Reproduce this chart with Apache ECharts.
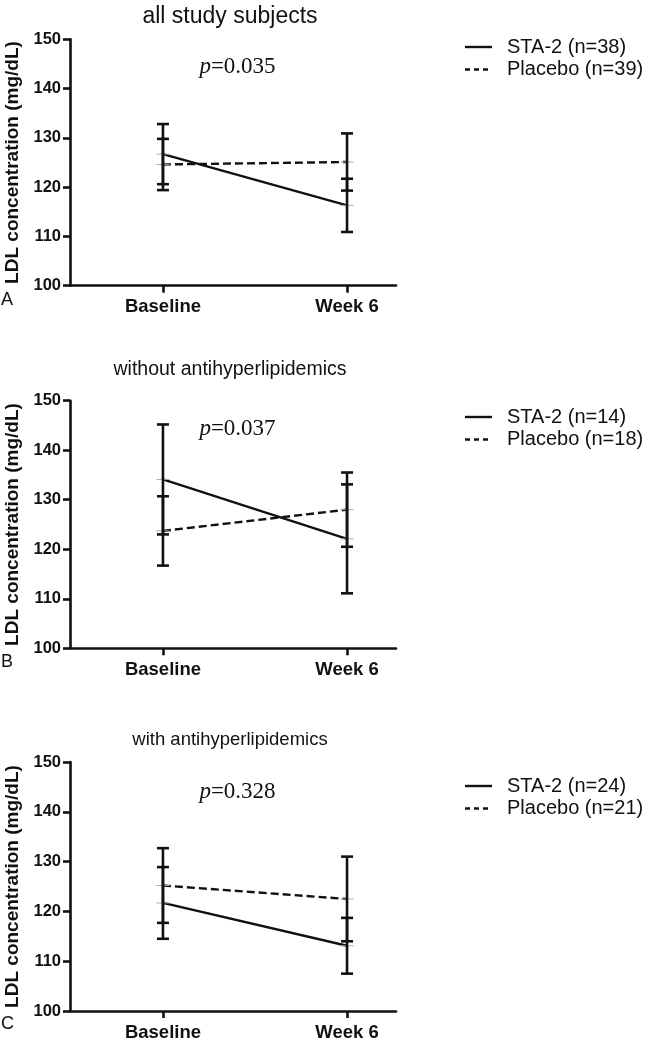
<!DOCTYPE html>
<html>
<head>
<meta charset="utf-8">
<script src="https://cdn.jsdelivr.net/npm/echarts@6/dist/echarts.min.js"></script>
<style>html,body{margin:0;padding:0;background:#fff;}#c{width:646px;height:1039px;}</style>
</head>
<body>
<div id="c"></div>
<script>
// ---- data ----
const categories = ['Baseline', 'Week 6'];
const yTicks = [100, 110, 120, 130, 140, 150];
const panelTitles = ['all study subjects', 'without antihyperlipidemics', 'with antihyperlipidemics'];
const panelLetters = ['A', 'B', 'C'];
const pValues = ['0.035', '0.037', '0.328'];
const sta2Names = ['STA-2 (n=38)', 'STA-2 (n=14)', 'STA-2 (n=24)'];
const placeboNames = ['Placebo (n=39)', 'Placebo (n=18)', 'Placebo (n=21)'];
const sta2MeanA = [126.7, 116.3];
const sta2ErrA = [6.1, 5.4];
const placeboMeanA = [124.6, 125.1];
const placeboErrA = [5.2, 5.8];
const sta2MeanB = [134.1, 122.1];
const sta2ErrB = [11.1, 11.0];
const placeboMeanB = [123.7, 128.0];
const placeboErrB = [7.0, 7.5];
const sta2MeanC = [121.7, 113.1];
const sta2ErrC = [7.2, 5.6];
const placeboMeanC = [125.2, 122.5];
const placeboErrC = [7.5, 8.5];

const sta2Means = [sta2MeanA, sta2MeanB, sta2MeanC];
const sta2Errs = [sta2ErrA, sta2ErrB, sta2ErrC];
const placeboMeans = [placeboMeanA, placeboMeanB, placeboMeanC];
const placeboErrs = [placeboErrA, placeboErrB, placeboErrC];

// ---- layout ----
const SANS = 'Liberation Sans';
const SERIF = 'Liberation Serif';
const gridTops = [39.3, 400.7, 762];
const gridHeights = [246.4, 247.6, 249];
const gridLeft = 70, gridWidth = 326;
const titleY = [0, 355, 725];
const titleSize = [23, 19.5, 18.5];
const pY = [50, 412, 775];
const legendY = [47, 417, 786];
const legendGap = 22.5;
const letterY = [291, 653, 1015];

const chart = echarts.init(document.getElementById('c'), null, {renderer: 'canvas'});

const grid = [], xAxis = [], yAxis = [], series = [], title = [], graphic = [];

function errRender(params, api) {
  const x = api.value(0), m = api.value(1), e = api.value(2);
  const top = api.coord([x, m + e]);
  const bot = api.coord([x, m - e]);
  const hw = 6;
  const st = {stroke: '#111', lineWidth: 2.6};
  return {
    type: 'group',
    children: [
      {type: 'line', shape: {x1: top[0], y1: top[1], x2: bot[0], y2: bot[1]}, style: st},
      {type: 'line', shape: {x1: top[0] - hw, y1: top[1], x2: top[0] + hw, y2: top[1]}, style: st},
      {type: 'line', shape: {x1: bot[0] - hw, y1: bot[1], x2: bot[0] + hw, y2: bot[1]}, style: st}
    ]
  };
}

for (let i = 0; i < 3; i++) {
  grid.push({left: gridLeft, top: gridTops[i], width: gridWidth, height: gridHeights[i],
    containLabel: false, outerBoundsMode: 'none'});
  xAxis.push({
    type: 'value', gridIndex: i, min: -0.505, max: 1.266,
    axisLine: {show: true, onZero: false, lineStyle: {color: '#111', width: 2.6}},
    axisTick: {show: true, customValues: [0, 1], length: 7, lineStyle: {color: '#111', width: 2.6}},
    axisLabel: {show: true, customValues: [0, 1], margin: 12,
      formatter: v => categories[Math.round(v)] || '',
      fontFamily: SANS, fontWeight: 'bold', fontSize: 18.5, color: '#111'},
    splitLine: {show: false}
  });
  yAxis.push({
    type: 'value', gridIndex: i, min: yTicks[0], max: yTicks[yTicks.length - 1], interval: 10,
    name: 'LDL concentration (mg/dL)', nameLocation: 'middle', nameGap: 44, nameRotate: 90,
    nameTextStyle: {fontFamily: SANS, fontWeight: 'bold', fontSize: 19, color: '#111'},
    axisLine: {show: true, onZero: false, lineStyle: {color: '#111', width: 2.6}},
    axisTick: {show: true, length: 7, lineStyle: {color: '#111', width: 2.6}},
    axisLabel: {margin: 9, fontFamily: SANS, fontWeight: 'bold', fontSize: 16.5, color: '#111'},
    splitLine: {show: false}
  });
  const sData = sta2Means[i].map((v, k) => [k, v]);
  const pData = placeboMeans[i].map((v, k) => [k, v]);
  series.push({
    name: sta2Names[i], type: 'line', xAxisIndex: i, yAxisIndex: i, data: sData,
    symbol: 'rect', symbolSize: [13, 1], itemStyle: {color: '#aaa'},
    lineStyle: {color: '#111', width: 2.4, type: 'solid'}, z: 3, silent: true
  });
  series.push({
    name: placeboNames[i], type: 'line', xAxisIndex: i, yAxisIndex: i, data: pData,
    symbol: 'rect', symbolSize: [13, 1], itemStyle: {color: '#aaa'},
    lineStyle: {color: '#111', width: 2.4, type: [8, 4]}, z: 3, silent: true
  });
  series.push({
    type: 'custom', xAxisIndex: i, yAxisIndex: i, renderItem: errRender, z: 4, silent: true,
    data: sta2Means[i].map((v, k) => [k, v, sta2Errs[i][k]])
  });
  series.push({
    type: 'custom', xAxisIndex: i, yAxisIndex: i, renderItem: errRender, z: 4, silent: true,
    data: placeboMeans[i].map((v, k) => [k, v, placeboErrs[i][k]])
  });
  title.push({
    text: panelTitles[i], left: 230, top: titleY[i], textAlign: 'center', padding: [5, 0],
    textStyle: {fontFamily: SANS, fontWeight: 'normal', fontSize: titleSize[i], color: '#111'}
  });
  title.push({
    text: '{p|p}{t|=' + pValues[i] + '}', left: 237.5, top: pY[i], textAlign: 'center', padding: [5, 0],
    textStyle: {rich: {
      p: {fontFamily: SERIF, fontStyle: 'italic', fontWeight: 'normal', fontSize: 23, color: '#111'},
      t: {fontFamily: SERIF, fontWeight: 'normal', fontSize: 23, color: '#111'}
    }}
  });
  title.push({
    text: panelLetters[i], left: 1, top: letterY[i], padding: 0,
    textStyle: {fontFamily: SANS, fontWeight: 'normal', fontSize: 18, color: '#111'}
  });
  // legend (drawn as graphic entries)
  const names = [sta2Names[i], placeboNames[i]];
  const dashes = [null, [5, 4]];
  for (let k = 0; k < 2; k++) {
    const y = legendY[i] + k * legendGap;
    graphic.push({
      type: 'line', shape: {x1: 465, y1: y, x2: 492, y2: y},
      style: {stroke: '#111', lineWidth: 2.4, lineDash: dashes[k]}, silent: true
    });
    graphic.push({
      type: 'text', x: 507, y: y,
      style: {text: names[k], fontFamily: SANS, fontSize: 20, fill: '#111', verticalAlign: 'middle'},
      silent: true
    });
  }
}

chart.setOption({
  backgroundColor: '#fff',
  animation: false,
  title, grid, xAxis, yAxis, series, graphic
});
</script>
</body>
</html>
